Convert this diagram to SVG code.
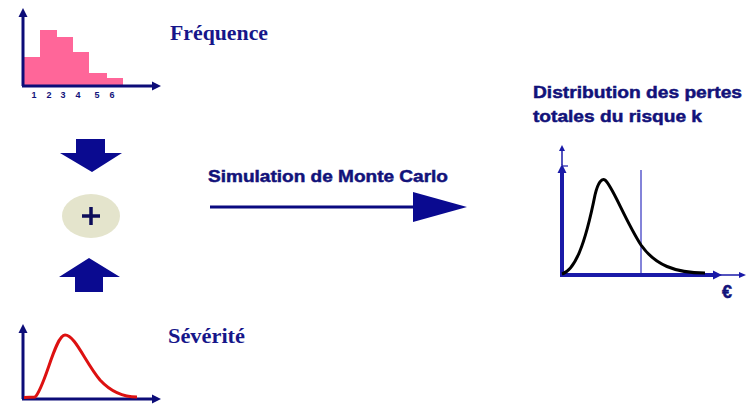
<svg xmlns="http://www.w3.org/2000/svg" width="754" height="404" viewBox="0 0 754 404">
<style>
.ax{stroke:#0c0c78;stroke-width:3;fill:none}
.ah{fill:#0c0c78}
.ser{font-family:"Liberation Serif","Times New Roman",serif;font-weight:bold;font-size:20px;fill:#16168a}
.sans{font-family:"Liberation Sans",Arial,sans-serif;font-weight:bold;fill:#12127a;stroke:#12127a;stroke-width:0.5}
.num{font-family:"Liberation Sans",Arial,sans-serif;font-weight:bold;font-size:9px;fill:#12127a;text-anchor:middle}
.big{fill:#0a0a90}
</style>
<rect width="754" height="404" fill="#ffffff"/>
<g id="frequence">
<path d="M23,85 V57 H40 V30 H57 V37 H73 V52 H89 V73 H107 V78 H123 V85 Z" fill="#ff6699"/>
<line class="ax" x1="23" y1="86" x2="23" y2="16"/>
<polygon class="ah" points="18.5,17 27.5,17 23,8"/>
<line class="ax" x1="22" y1="86" x2="152" y2="86"/>
<polygon class="ah" points="152,81.5 152,90.5 161,86"/>
<text class="num" x="34" y="98">1</text>
<text class="num" x="49" y="98">2</text>
<text class="num" x="63" y="98">3</text>
<text class="num" x="78" y="98">4</text>
<text class="num" x="97" y="98">5</text>
<text class="num" x="112" y="98">6</text>
<text class="ser" x="170" y="40" textLength="98" lengthAdjust="spacingAndGlyphs">Fréquence</text>
</g>
<g id="arrow-down">
<polygon class="big" points="76,139 105,139 105,153 122,153 92,172 60,153 76,153"/>
</g>
<g id="plus">
<ellipse cx="91" cy="216" rx="29" ry="22" fill="#e4e4cc"/>
<path d="M82,216 H100 M91,207 V225" stroke="#0c0c5a" stroke-width="3.5"/>
</g>
<g id="arrow-up">
<polygon class="big" points="89,258 120,277 103,277 103,292 75,292 75,277 59,277"/>
</g>
<g id="severite">
<line class="ax" x1="23" y1="399" x2="23" y2="332"/>
<polygon class="ah" points="18.5,333 27.5,333 23,324"/>
<line class="ax" x1="22" y1="399" x2="152" y2="399"/>
<polygon class="ah" points="152,394.5 152,403.5 161,399"/>
<path d="M24,397.5 L35,397 C45,388 55,335 65,335 C75,335 85,362 100,380 C112,393 125,397 137,397" fill="none" stroke="#dd1111" stroke-width="3"/>
<text class="ser" x="168" y="343" textLength="77" lengthAdjust="spacingAndGlyphs">Sévérité</text>
</g>
<g id="connectors">
<line x1="210" y1="207" x2="415" y2="207" stroke="#0a0a80" stroke-width="3"/>
<polygon points="413,192 467,207 413,222" fill="#0a0a90"/>
<text class="sans" x="208" y="182" font-size="17" textLength="240" lengthAdjust="spacingAndGlyphs">Simulation de Monte Carlo</text>
</g>
<g id="distribution">
<text class="sans" x="533" y="98" font-size="17" textLength="209" lengthAdjust="spacingAndGlyphs">Distribution des pertes</text>
<text class="sans" x="533" y="122" font-size="17" textLength="169" lengthAdjust="spacingAndGlyphs">totales du risque k</text>
<line x1="641" y1="170" x2="641" y2="275" stroke="#5a5acc" stroke-width="1.5"/>
<line x1="562" y1="165" x2="562" y2="150" stroke="#1a1aa8" stroke-width="1.5"/>
<polygon points="559,151 565,151 562,145" fill="#1a1aa8"/>
<line x1="562" y1="166" x2="568" y2="166" stroke="#1a1aa8" stroke-width="1.2"/>
<line x1="562" y1="276" x2="562" y2="172" stroke="#1a1aa8" stroke-width="4"/>
<polygon points="557.5,173 566.5,173 562,164" fill="#1a1aa8"/>
<line x1="560" y1="275" x2="714" y2="275" stroke="#1a1aa8" stroke-width="4"/>
<polygon points="713,270.5 713,279.5 722,275" fill="#1a1aa8"/>
<line x1="720" y1="275" x2="740" y2="275" stroke="#1a1aa8" stroke-width="1.5"/>
<polygon points="739,272 739,278 746,275" fill="#1a1aa8"/>
<path d="M562,274 C575,270 585,245 595,195 C598,182 602,178 605,180 C612,185 625,220 641,245 C655,265 675,273 705,273" fill="none" stroke="#000" stroke-width="3"/>
<text class="sans" x="722" y="298" font-size="18">€</text>
</g>
</svg>
